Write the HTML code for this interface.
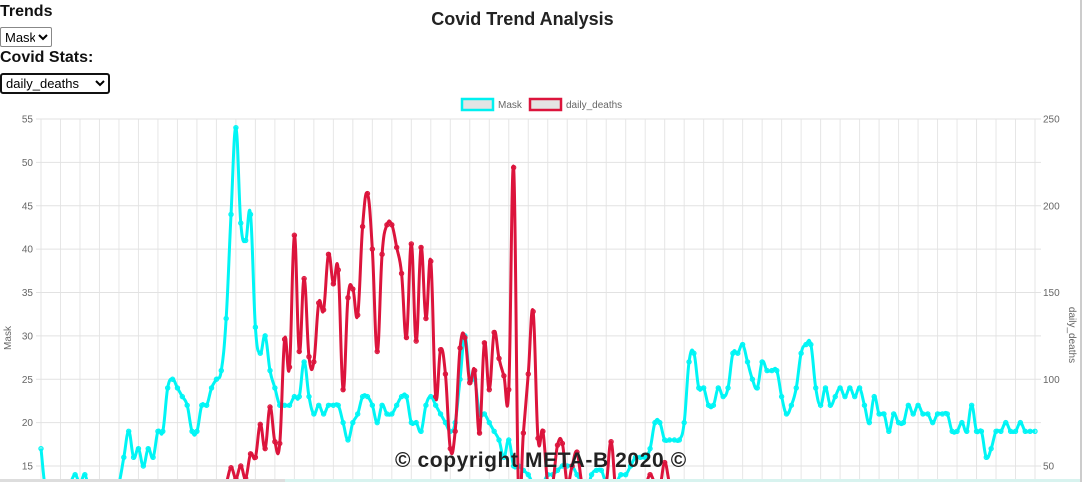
<!DOCTYPE html>
<html style="overflow:hidden"><head><meta charset="utf-8">
<style>
html,body{margin:0;width:1085px;height:482px;overflow:hidden}
body{background:#fff;font-family:"Liberation Sans",sans-serif;position:relative}
.lbl{position:absolute;left:0;font-weight:bold;font-size:16px;color:#111}
select{position:absolute;left:0;font-family:"Liberation Sans",sans-serif;font-size:13px;background:#fff}
#title{position:absolute;left:0;width:1045px;text-align:center;top:9px;font-size:18px;font-weight:bold;color:#222}
#copy{position:absolute;left:395px;top:449px;font-size:21px;letter-spacing:0.6px;font-weight:bold;color:#222;white-space:nowrap}
</style></head><body>
<div class="lbl" style="top:3px">Trends</div>
<select style="top:27px;width:52px;height:20px;border:1px solid #888;border-radius:2px"><option>Mask</option></select>
<div class="lbl" style="top:49px">Covid Stats:</div>
<select style="top:73px;width:110px;height:21px;border:2px solid #111;border-radius:3px"><option>daily_deaths</option></select>
<div id="title">Covid Trend Analysis</div>
<svg id="chart" width="1085" height="482" style="position:absolute;left:0;top:0;overflow:hidden"></svg>
<div id="copy">© copyright META-B 2020 ©</div>
<div style="position:absolute;left:0;top:479px;width:285px;height:3px;background:#ddd"></div>
<div style="position:absolute;left:285px;top:479px;width:795px;height:3px;background:#d8f3ef"></div>
<div style="position:absolute;left:1080px;top:0;width:2px;height:482px;background:#ccc"></div>
<script>
const maskValues=[17,12,12,12,12,12,13,14,13,14,12,11,11,11,11,12,13,16,19,16,17,15,17,16,19,19,24,25,24,23,22,19,19,22,22,24,25,26,32,44,54,43,41,44,31,28,30,26,24,22,22,22,23,23,27,23,21,22,21,22,22,22,20,18,
20,21,23,23,22,20,22,21,21,22,23,23,20,20,19,22,23,22,21,20,19,20,25,30,25,25,21,21,20,19,18,16,18,15,15,14.5,14,13,13,13,14,14,14.5,15,15,15,14,13,12,14,14.5,14.5,13,13,13,14,14,15,16,16,16,17,20,20,18,18,18,18,20,27,28,24,
24,22,22,24,23,24,28,28,29,27,25,24,27,26,26,26,23,21,22,24,28,29,29,24,22,24,22,23,24,23,24,23,24,22,20,23,21,21,19,21,20,20,22,21,22,21,21,20,21,21,21,19,19,20,19,22,19,19,16,17,19,19,20,19,19,20,19,19,19];
const deathValues=[0,0,0,0,0,0,0,0,0,0,0,0,0,0,0,0,0,0,0,0,5,5,8,8,10,10,12,12,15,15,18,20,22,25,28,30,32,35,40,
49,43,50,43,57,55,74,60,84,64,63,123,107,183,116,158,113,110,144,140,172,155,163,94,147,152,137,188,207,175,116,172,189,189,176,161,124,178,122,176,135,168,90,117,103,60,70,118,124,98,105,69,121,94,127,112,102,94,222,35,69,103,139,66,70,40,40,62,63,40,50,58,40,35,35,35,40,40,64,
35,35,30,30,30,35,38,45,40,38,52,40,35,30,30,28,28,25,25,25,25,22,22,20,20,20,20,18,18,18,18,15,15,15,15,15,12,12,12,12,12,10,10,10,10,10,10,10,10,10,10,10,8,8,8,8,8,8,8,8,8,8,8,8,8,8,8,8,8,8,8,8,8,8,8,8,8,8,8,8,8,8];
const leftTicks=[55,50,45,40,35,30,25,20,15];
const rightTicks=[250,200,150,100,50];
const NS='http://www.w3.org/2000/svg';
const svg=document.getElementById('chart');
const X0=41,X1=1035,YT=119,YB=466;
const n=maskValues.length;
const xAt=i=>X0+(X1-X0)*i/(n-1);
const yL=v=>YT+(55-v)/(55-15)*(YB-YT);
const yR=v=>YT+(250-v)/(250-50)*(YB-YT);
function mk(tag,attrs){const e=document.createElementNS(NS,tag);for(const k in attrs)e.setAttribute(k,attrs[k]);svg.appendChild(e);return e;}
for(let i=0;i<n;i+=4){const g=mk('line',{x1:xAt(i),x2:xAt(i),y1:YT,y2:482,stroke:'#e6e6e6','stroke-width':1});

}
for(let k=0;k<=10;k++){const v=55-5*k;const y=yL(v);const g=mk('line',{x1:X0-5,x2:X1+6,y1:y,y2:y,stroke:'#e2e2e2','stroke-width':1});

}
leftTicks.forEach(v=>{const t=mk('text',{x:33,y:yL(v)+3.5,'text-anchor':'end','font-size':10,fill:'#666','font-family':'Liberation Sans'});t.textContent=v;

});
rightTicks.forEach(v=>{const t=mk('text',{x:1043,y:yR(v)+3.5,'font-size':10,fill:'#666','font-family':'Liberation Sans'});t.textContent=v;

});
let t=mk('text',{x:0,y:0,'font-size':10,fill:'#666','text-anchor':'middle',transform:'translate(11,338) rotate(-90)','font-family':'Liberation Sans'});t.textContent='Mask';


t=mk('text',{x:0,y:0,'font-size':10,fill:'#666','text-anchor':'middle',transform:'translate(1069,335) rotate(90)','font-family':'Liberation Sans'});t.textContent='daily_deaths';


let r=mk('rect',{x:462,y:99,width:31,height:11,fill:'#e4e4e4',stroke:'#00f0f0','stroke-width':2.5});


t=mk('text',{x:498,y:108,'font-size':10,fill:'#666','font-family':'Liberation Sans'});t.textContent='Mask';


r=mk('rect',{x:530,y:99,width:31,height:11,fill:'#e4e4e4',stroke:'#dc143c','stroke-width':2.5});


t=mk('text',{x:566,y:108,'font-size':10,fill:'#666','font-family':'Liberation Sans'});t.textContent='daily_deaths';


function series(vals,yf,color,name){
  const pts=vals.map((v,i)=>[xAt(i),yf(v)]);
  let d='M'+pts[0][0]+','+pts[0][1];
  const k=0.2;
  for(let i=0;i<pts.length-1;i++){const p0=pts[Math.max(0,i-1)],p1=pts[i],p2=pts[i+1],p3=pts[Math.min(pts.length-1,i+2)];
    d+=' C'+(p1[0]+(p2[0]-p0[0])*k)+','+(p1[1]+(p2[1]-p0[1])*k)+' '+(p2[0]-(p3[0]-p1[0])*k)+','+(p2[1]-(p3[1]-p1[1])*k)+' '+p2[0]+','+p2[1];}
  const p=mk('path',{d:d,fill:'none',stroke:color,'stroke-width':3,'stroke-linejoin':'round'});
  
  
  pts.forEach(q=>{const c=mk('circle',{cx:q[0],cy:q[1],r:2.2,fill:color,'fill-opacity':0.5,stroke:color,'stroke-width':1});
  
  });
}
series(maskValues,yL,'#00f5f5','mask');
series(deathValues,yR,'#dc143c','daily-deaths');
</script>
</body></html>
